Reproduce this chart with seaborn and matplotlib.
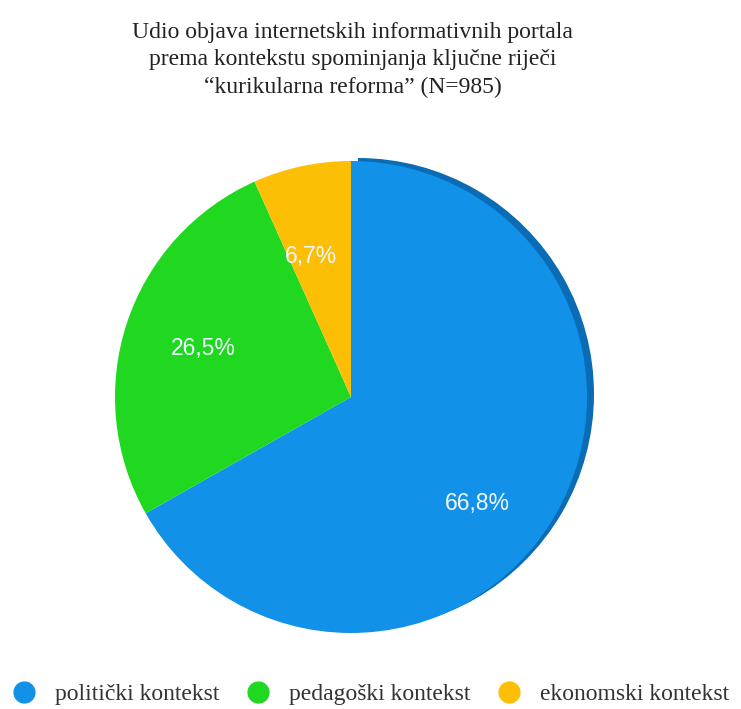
import numpy as np
import seaborn as sns
import matplotlib.pyplot as plt
from matplotlib.lines import Line2D

# podaci
categories = ['politički kontekst', 'pedagoški kontekst', 'ekonomski kontekst']
shares = [66.8, 26.5, 6.7]
pct_labels = ['66,8%', '26,5%', '6,7%']
title = 'Udio objava internetskih informativnih portala\nprema kontekstu spominjanja ključne riječi\n\u201ckurikularna reforma\u201d (N=985)'

sns.set_style('white')
colors = sns.color_palette(['#1192e8', '#1fd81f', '#fcbf06'])
rim = ['#0a6cb4', 'none', 'none']

W, H = 741, 709
fig = plt.figure(figsize=(W / 100, H / 100), dpi=100)
ax = fig.add_axes([0, 0, 1, 1])

cx, cy, r = 351, H - 397, 236
# tamni rub (3D dojam), samo uz plavi isječak
ax.pie(shares, colors=rim, startangle=90, counterclock=False,
       center=(cx + 7, cy + 3), radius=r, wedgeprops={'linewidth': 0})
ax.pie(shares, colors=colors, startangle=90, counterclock=False,
       center=(cx, cy), radius=r, wedgeprops={'linewidth': 0})

# postotci u isječcima (udaljenost od središta, pomak kuta)
dist = [0.70, 0.66, 0.62]
shift = [-10, 0, 4]
start = 90.0
for w, lab, d, s in zip(shares, pct_labels, dist, shift):
    mid = np.deg2rad(start - w * 3.6 / 2 + s)
    start -= w * 3.6
    ax.text(cx + d * r * np.cos(mid), cy + d * r * np.sin(mid), lab,
            ha='center', va='center', color='#f0f6ff', fontsize=16.5,
            family='Liberation Sans')

ax.set_xlim(0, W)
ax.set_ylim(0, H)
ax.set_aspect('equal')
ax.axis('off')

fig.text(0.476, 1 - 60 / H, title, ha='center', va='center',
         family='Liberation Serif', fontsize=17, color='#222222',
         linespacing=1.4)

handles = [Line2D([], [], marker='o', linestyle='', markersize=15,
                  markerfacecolor=c, markeredgecolor=c) for c in colors]
fig.legend(handles, categories, loc='center', bbox_to_anchor=(0.5, 1 - 694 / H),
           ncol=3, frameon=False, handletextpad=0.8, columnspacing=1.15,
           handlelength=1.0, prop={'family': 'Liberation Serif', 'size': 17},
           labelcolor='#333333')

fig.savefig('out.png', dpi=100)
